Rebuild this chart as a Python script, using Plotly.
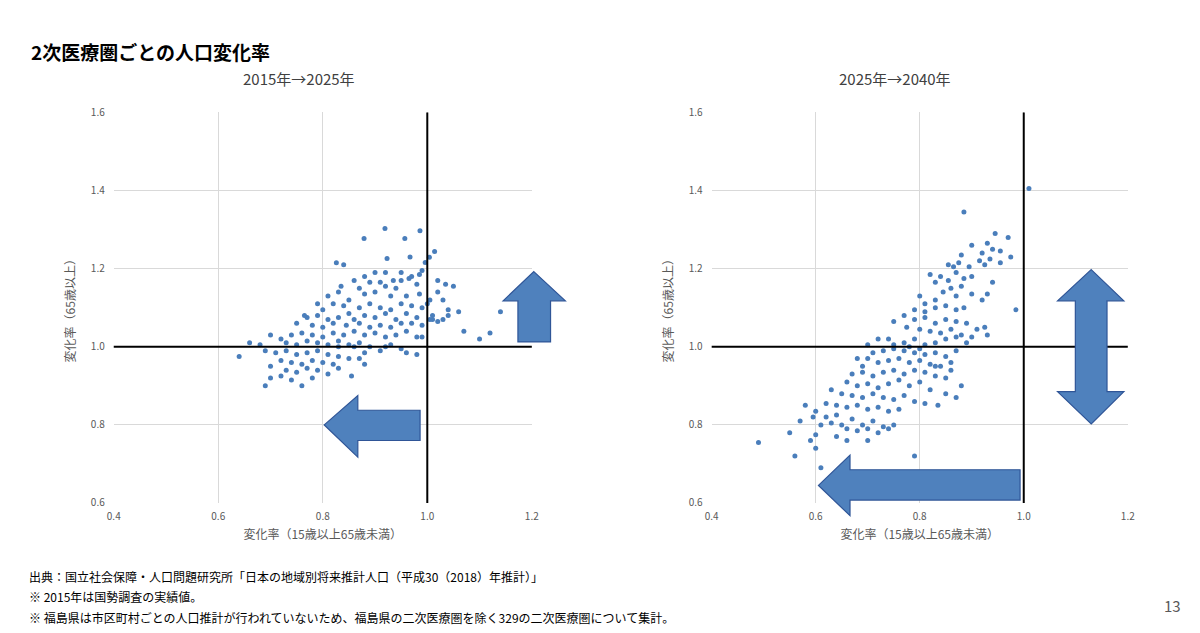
import plotly.graph_objects as go

left_pts = [(0.919,1.303),(0.879,1.277),(0.986,1.297),(0.957,1.277),(0.826,1.215),(0.923,1.226),(0.967,1.230),(1.014,1.244),(1.004,1.229),(0.996,1.216),
(0.95,1.19),(0.97,1.18),(0.99,1.195),(0.985,1.185),(0.92,1.19),(0.90,1.19),(0.88,1.18),(0.89,1.165),(0.91,1.165),(0.935,1.17),(0.86,1.17),(0.835,1.155),(0.95,1.17),(0.965,1.175),(0.98,1.16),(0.94,1.15),(0.92,1.155),(0.90,1.14),(0.87,1.15),(0.88,1.135),(0.93,1.13),(0.96,1.13),(0.985,1.135),(1.005,1.12),(1.02,1.17),(1.03,1.12),(1.05,1.155),(1.02,1.14),
(0.80,1.095),(0.82,1.11),(0.84,1.105),(0.85,1.085),(0.87,1.10),(0.89,1.11),(0.91,1.10),(0.93,1.095),(0.95,1.11),(0.97,1.105),(0.99,1.10),(1.00,1.11),(0.77,1.075),(0.79,1.08),(0.81,1.07),(0.83,1.075),(0.86,1.07),(0.88,1.08),(0.90,1.075),(0.92,1.085),(0.94,1.07),(0.96,1.085),(0.98,1.075),(1.01,1.07),(1.02,1.065),(1.04,1.095),(1.06,1.09),(0.75,1.06),(0.78,1.055),(0.80,1.05),(0.82,1.06),(0.845,1.055),(0.87,1.06),(0.89,1.05),(0.91,1.055),(0.93,1.05),(0.95,1.06),(0.97,1.06),(0.99,1.055),(1.005,1.07),(1.01,1.08),
(0.70,1.03),(0.72,1.02),(0.74,1.03),(0.76,1.035),(0.78,1.03),(0.80,1.025),(0.82,1.035),(0.84,1.03),(0.86,1.04),(0.88,1.03),(0.90,1.035),(0.92,1.025),(0.94,1.03),(0.96,1.04),(0.98,1.025),(0.73,1.01),(0.75,1.005),(0.77,1.015),(0.79,1.01),(0.81,1.005),(0.83,1.015),(0.85,1.005),(0.87,1.01),(0.89,1.0),(0.93,1.005),(0.99,1.025),(0.68,1.005),(0.66,1.01),(0.64,0.975),(0.69,0.99),(0.71,0.985),(0.73,0.99),(0.75,0.98),(0.77,0.985),(0.79,0.99),(0.81,0.98),(0.83,0.975),(0.85,0.97),(0.88,0.985),(0.91,0.99),(0.96,0.985),(0.98,0.98),(1.07,1.04),(1.10,1.02),(1.14,1.09),(1.12,1.035),
(0.72,0.965),(0.74,0.96),(0.76,0.955),(0.78,0.965),(0.80,0.96),(0.82,0.955),(0.70,0.95),(0.73,0.94),(0.75,0.935),(0.77,0.945),(0.79,0.94),(0.83,0.945),(0.70,0.92),(0.72,0.925),(0.74,0.915),(0.76,0.90),(0.78,0.92),(0.81,0.93),(0.855,0.925),(0.87,0.97),(0.69,0.90),(0.88,0.955),(0.83,1.00),(0.86,1.0),(0.95,0.995),(0.92,1.0),
(0.84,1.21),(0.81,1.13),(0.83,1.14),(0.85,1.12),(0.79,1.11),(0.765,1.08),(1.03,1.07),(1.04,1.08),(1.035,1.16)]

right_pts = [(1.01,1.405),(0.885,1.345),(0.945,1.29),(0.97,1.28),(0.93,1.265),(0.90,1.26),(0.92,1.24),(0.94,1.25),(0.955,1.245),(0.975,1.23),(0.935,1.225),(0.915,1.22),(0.88,1.235),(0.865,1.205),(0.855,1.21),(0.875,1.215),(0.895,1.205),(0.925,1.21),(0.955,1.215),
(0.82,1.185),(0.84,1.18),(0.83,1.165),(0.855,1.17),(0.87,1.19),(0.885,1.175),(0.90,1.18),(0.86,1.15),(0.88,1.155),(0.845,1.14),(0.87,1.13),(0.90,1.135),(0.92,1.12),(0.93,1.135),(0.985,1.095),(0.94,1.165),
(0.80,1.13),(0.81,1.11),(0.83,1.12),(0.79,1.095),(0.81,1.09),(0.83,1.1),(0.85,1.105),(0.87,1.095),(0.885,1.1),(0.77,1.08),(0.79,1.07),(0.81,1.075),(0.83,1.06),(0.85,1.07),(0.87,1.065),(0.89,1.06),(0.91,1.045),(0.925,1.05),(0.93,1.03),(0.75,1.065),(0.775,1.05),(0.80,1.045),(0.82,1.04),(0.84,1.035),(0.86,1.045),(0.88,1.03),(0.90,1.025),
(0.74,1.02),(0.72,1.02),(0.75,1.005),(0.77,1.01),(0.79,1.02),(0.81,1.005),(0.83,1.01),(0.85,1.02),(0.87,1.025),(0.89,1.01),(0.70,1.005),
(0.71,0.985),(0.73,0.99),(0.75,0.995),(0.77,0.99),(0.78,1.0),(0.79,0.985),(0.80,0.995),(0.81,0.98),(0.83,0.985),(0.85,0.975),(0.87,0.99),(0.68,0.97),(0.69,0.95),(0.70,0.97),(0.72,0.96),(0.74,0.965),(0.76,0.97),(0.78,0.96),(0.80,0.965),(0.82,0.955),(0.84,0.95),(0.86,0.94),
(0.67,0.93),(0.69,0.935),(0.71,0.925),(0.73,0.935),(0.75,0.94),(0.77,0.93),(0.79,0.94),(0.81,0.935),(0.83,0.925),(0.85,0.92),(0.66,0.91),(0.68,0.90),(0.70,0.905),(0.72,0.895),(0.74,0.905),(0.76,0.915),(0.78,0.90),(0.80,0.91),(0.82,0.89),
(0.63,0.89),(0.65,0.88),(0.67,0.875),(0.69,0.87),(0.71,0.88),(0.73,0.87),(0.75,0.865),(0.77,0.875),(0.79,0.86),(0.81,0.855),(0.62,0.855),(0.64,0.85),(0.66,0.845),(0.68,0.85),(0.70,0.84),(0.72,0.845),(0.74,0.835),(0.76,0.84),
(0.60,0.835),(0.62,0.82),(0.64,0.825),(0.65,0.80),(0.67,0.815),(0.69,0.80),(0.71,0.81),(0.73,0.795),(0.75,0.80),(0.58,0.85),(0.595,0.82),(0.61,0.80),(0.63,0.805),(0.66,0.79),(0.68,0.785),(0.70,0.79),(0.72,0.78),(0.74,0.79),(0.57,0.81),(0.60,0.775),(0.55,0.78),(0.59,0.76),(0.60,0.74),(0.56,0.72),(0.49,0.755),(0.66,0.76),(0.70,0.76),(0.61,0.69),(0.79,0.72),(0.64,0.77),(0.83,0.95),(0.86,0.96),(0.87,0.87),(0.88,0.90),(0.85,0.88),(0.835,0.85)]

titles = ["2015年→2025年", "2025年→2040年"]
x_title = "変化率（15歳以上65歳未満）"
y_title = "変化率（65歳以上）"
main_title = "2次医療圏ごとの人口変化率"
notes = ["出典：国立社会保障・人口問題研究所「日本の地域別将来推計人口（平成30（2018）年推計）」",
         "※ 2015年は国勢調査の実績値。",
         "※ 福島県は市区町村ごとの人口推計が行われていないため、福島県の二次医療圏を除く329の二次医療圏について集計。"]

W, H = 1200, 633
font = "Noto Sans CJK JP"
fig = go.Figure()
for i, pts in enumerate([left_pts, right_pts]):
    s = "" if i == 0 else "2"
    fig.add_trace(go.Scatter(x=[p[0] for p in pts], y=[p[1] for p in pts], mode="markers",
                             marker=dict(size=5, color="#4A7EBB"), xaxis="x"+s, yaxis="y"+s, showlegend=False))

ax = dict(range=[0.4, 1.2], dtick=0.2, tickformat=".1f", showgrid=True, gridcolor="#D9D9D9", zeroline=False,
          tickfont=dict(size=10, color="#595959"), showline=False, ticks="", ticklabelstandoff=6)
ay = dict(range=[0.6, 1.6], dtick=0.2, tickformat=".1f", showgrid=True, gridcolor="#D9D9D9", zeroline=False,
          tickfont=dict(size=10, color="#595959"), showline=False, ticks="", ticklabelstandoff=8)
dom_l = [108/W, 531/W]; dom_r = [713/W, 1134/W]; ydom = [1-507/H, 1-107/H]
fig.update_layout(
    width=W, height=H, margin=dict(l=0, r=0, t=0, b=0), plot_bgcolor="white", paper_bgcolor="white",
    font=dict(family=font, color="#595959"),
    xaxis=dict(ax, domain=dom_l, title=dict(text=x_title, font=dict(size=12), standoff=8)),
    yaxis=dict(ay, domain=ydom, title=dict(text=y_title, font=dict(size=12), standoff=12)),
    xaxis2=dict(ax, domain=dom_r, anchor="y2", title=dict(text=x_title, font=dict(size=12), standoff=8)),
    yaxis2=dict(ay, domain=ydom, anchor="x2", title=dict(text=y_title, font=dict(size=12), standoff=12)),
)
shapes = []
for s in ["", "2"]:
    shapes.append(dict(type="line", xref="x"+s, yref="y"+s+" domain", x0=1, x1=1, y0=0, y1=1, line=dict(color="black", width=2)))
    shapes.append(dict(type="line", xref="x"+s+" domain", yref="y"+s, x0=0, x1=1, y0=1, y1=1, line=dict(color="black", width=2)))

def poly(pts):
    return "M " + " L ".join(f"{x/W:.4f},{1-y/H:.4f}" for x, y in pts) + " Z"
arrows = [
    [(533,270),(565,300),(550,300),(550,342),(517,342),(517,300),(502,300)],
    [(321,427),(355,397),(355,412),(418,412),(418,443),(355,443),(355,460)],
    [(1097,268),(1130,300),(1113,300),(1113,393),(1130,393),(1097,426),(1063,393),(1081,393),(1081,300),(1063,300)],
    [(821,489),(853,458),(853,473),(1025,473),(1025,504),(853,504),(853,520)],
]
for a in arrows:
    shapes.append(dict(type="path", xref="paper", yref="paper", path=poly(a), fillcolor="#4F81BD", line=dict(color="#2F5597", width=1.2)))
fig.update_layout(shapes=shapes)

ann = [dict(text="<b>"+main_title+"</b>", x=22/W, y=1-45/H, xanchor="left", font=dict(size=19, color="black")),
       dict(text=titles[0], x=295/W, y=1-72/H, xanchor="center", font=dict(size=15, color="#404040")),
       dict(text=titles[1], x=898/W, y=1-72/H, xanchor="center", font=dict(size=15, color="#404040")),
       dict(text="13", x=1190/W, y=1-612/H, xanchor="right", font=dict(size=15, color="#595959"))]
for k, n in enumerate(notes):
    ann.append(dict(text=n, x=20/W, y=1-(582+21*k)/H, xanchor="left", font=dict(size=12, color="black")))
for a in ann:
    a.update(xref="paper", yref="paper", yanchor="middle", showarrow=False)
fig.update_layout(annotations=ann)
fig.write_html("out.html", config={"displayModeBar": False})
with open("out.html", encoding="utf-8") as f:
    html = f.read()
html = html.replace("<head>", "<head><style>html,body{margin:0;padding:0;overflow:hidden}</style>", 1)
with open("out.html", "w", encoding="utf-8") as f:
    f.write(html)
